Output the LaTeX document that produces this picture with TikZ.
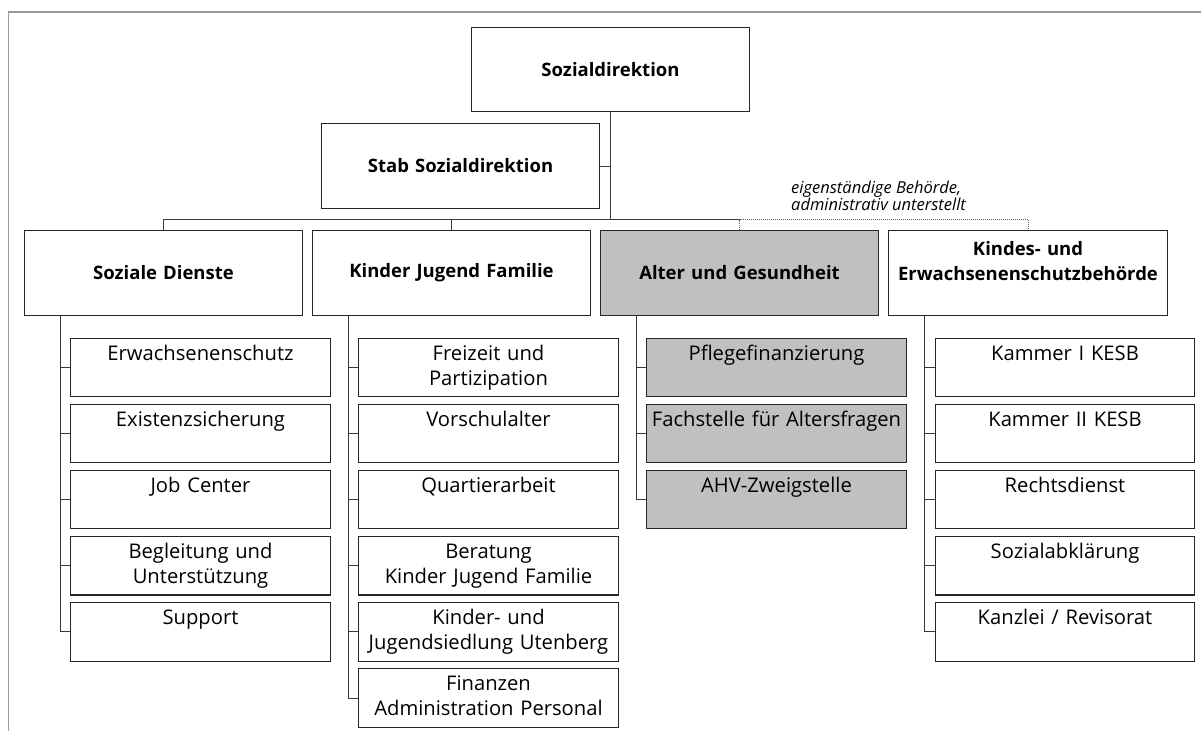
\documentclass[tikz,border=0pt]{standalone}
\usepackage{fontspec}
\setmainfont{Open Sans}
\definecolor{boxgray}{HTML}{C0C0C0}
\definecolor{framegray}{HTML}{9A9A9A}
\definecolor{linegray}{HTML}{3A3A3A}

\begin{document}
\begin{tikzpicture}[x=1pt,y=-1pt,
  head/.style={draw=black!85,line width=1.2pt,minimum width=277pt,minimum height=84.5pt,
    text width=272pt,align=center,font=\fontsize{18.5}{25}\selectfont\bfseries},
  unit/.style={draw=black!85,line width=1.1pt,text width=255.5pt,inner xsep=2pt,inner ysep=2pt,
    text height=20pt,text depth=34.3pt,align=center,font=\fontsize{20.2}{25}\selectfont},
  shaded/.style={fill=boxgray},
  link/.style={draw=linegray,line width=0.9pt},
  ext/.style={draw=linegray!80,line width=1pt,dash pattern=on 1pt off 1pt},
  note/.style={inner sep=0pt,align=left,font=\fontsize{16.5}{16.5}\selectfont\itshape}]
\useasboundingbox (0,0) rectangle (1201,731);
\draw[framegray,line width=1.6pt] (8.3,731) -- (8.3,11.7) -- (1201,11.7);

\node[head] (dir) at (610.5,69.5) {Sozialdirektion};
\node[head] (stab) at (460.5,166) {Stab Sozialdirektion};
\node[head] (sd) at (163.5,273) {Soziale Dienste};
\node[head] (kjf) at (451.5,273) {Kinder Jugend Familie};
\node[head,shaded] (ag) at (739.5,273) {Alter und Gesundheit};
\node[head] (kesb) at (1028,273) {Kindes- und\\Erwachsenenschutzbehörde\\\mbox{}};
\node[note,anchor=west] (remark) at (791,196) {eigenständige Behörde,\\administrativ unterstellt};

\coordinate (bar) at (610.5,219.5);
\draw[link] (dir.south) -- (bar);
\draw[link] (stab.east) -- (stab.east -| bar);
\draw[link] (sd.north) |- (ag.north |- bar);
\draw[link] (kjf.north) -- (kjf.north |- bar);
\draw[ext] (ag.north) -- (ag.north |- bar) -| (kesb.north);

\coordinate (sdrail) at ([xshift=-103.5pt]sd.south);
\coordinate (kjfrail) at ([xshift=-103.5pt]kjf.south);
\coordinate (agrail) at ([xshift=-103.5pt]ag.south);
\coordinate (kesbrail) at ([xshift=-103.5pt]kesb.south);

\foreach \txt [count=\i] in {Erwachsenenschutz,Existenzsicherung,Job Center,
    {Begleitung und\\Unterstützung},Support}{
  \node[unit] (sd\i) at (200.5,{367.5+66.1*(\i-1)}) {\txt};
  \draw[link] (sdrail) |- (sd\i.west);
}
\foreach \txt [count=\i] in {{Freizeit und\\Partizipation},Vorschulalter,Quartierarbeit,
    {Beratung\\Kinder Jugend Familie},{Kinder- und\\Jugendsiedlung Utenberg},
    {Finanzen\\Administration Personal}}{
  \node[unit] (kjf\i) at (488.5,{367.5+66.1*(\i-1)}) {\txt};
  \draw[link] (kjfrail) |- (kjf\i.west);
}
\foreach \txt [count=\i] in {Pflegefinanzierung,Fachstelle für Altersfragen,AHV-Zweigstelle}{
  \node[unit,shaded] (ag\i) at (776.5,{367.5+66.1*(\i-1)}) {\txt};
  \draw[link] (agrail) |- (ag\i.west);
}
\foreach \txt [count=\i] in {Kammer I KESB,Kammer II KESB,Rechtsdienst,Sozialabklärung,
    Kanzlei / Revisorat}{
  \node[unit] (kesb\i) at (1065,{367.5+66.1*(\i-1)}) {\txt};
  \draw[link] (kesbrail) |- (kesb\i.west);
}
\end{tikzpicture}
\end{document}
